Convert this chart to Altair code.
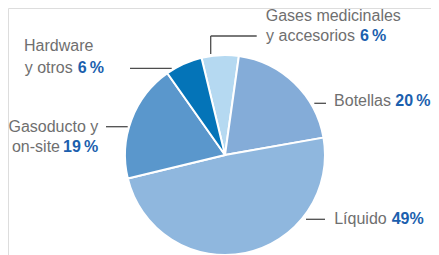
import math
import altair as alt
import pandas as pd

# ---- data ----
categories = ["Gases medicinales y accesorios", "Botellas", "Líquido",
              "Gasoducto y on-site", "Hardware y otros"]
values = [6, 20, 49, 19, 6]
colors = ["#b5d9f1", "#84acd8", "#8fb7de", "#5a97cc", "#0474b8"]

df = pd.DataFrame({"cat": categories, "value": values, "idx": list(range(len(values)))})

# ---- layout (pixel positions of annotations, view coordinates) ----
OFF = 8
CX, CY, R = 225 - OFF, 155 - OFF, 100
t0 = 2 * math.pi - math.radians(13.6)

gray_left = pd.DataFrame({
    "text": ["Gases medicinales", "Hardware"],
    "x": [265.7 - OFF, 24 - OFF],
    "y": [21 - OFF, 51 - OFF],
})
gray_right = pd.DataFrame({
    "text": ["y accesorios", "y otros", "Gasoducto y", "on-site", "Botellas", "Líquido"],
    "x": [355 - OFF, 72.7 - OFF, 98.3 - OFF, 60 - OFF, 391 - OFF, 386.7 - OFF],
    "y": [40.7 - OFF, 73 - OFF, 131.7 - OFF, 151.7 - OFF, 106 - OFF, 224 - OFF],
})
bold_left = pd.DataFrame({
    "text": ["6\u2009%", "6\u2009%", "49%"],
    "x": [360 - OFF, 77.7 - OFF, 391.7 - OFF],
    "y": [40.7 - OFF, 73 - OFF, 224 - OFF],
})
bold_right = pd.DataFrame({
    "text": ["19\u2009%", "20\u2009%"],
    "x": [98.3 - OFF, 430.5 - OFF],
    "y": [151.7 - OFF, 106 - OFF],
})
leaders = pd.DataFrame({
    "x": [210.7, 210.7, 130, 106, 314.3, 306],
    "x2": [210.7, 256.7, 171.7, 127.7, 326, 325],
    "y": [54, 36, 68.3, 126.7, 103.3, 219.3],
    "y2": [36, 36, 68.3, 126.7, 103.3, 219.3],
})
for c in ["x", "x2", "y", "y2"]:
    leaders[c] = leaders[c] - OFF

FONT = "Liberation Sans"
GRAY = "#6f6f6f"
BLUE = "#1b5fae"

pie = alt.Chart(df).mark_arc(outerRadius=R, stroke="white", strokeWidth=2).encode(
    theta=alt.Theta("value:Q", stack=True, scale=alt.Scale(range=[t0, t0 + 2 * math.pi])),
    color=alt.Color("cat:N", scale=alt.Scale(domain=categories, range=colors), legend=None),
    order=alt.Order("idx:Q", sort="ascending"),
    x=alt.value(CX),
    y=alt.value(CY),
)

rules = alt.Chart(leaders).mark_rule(color="#4d4d4d", strokeWidth=1.3).encode(
    x=alt.X("x:Q", scale=None, axis=None),
    x2="x2:Q",
    y=alt.Y("y:Q", scale=None, axis=None),
    y2="y2:Q",
)

def text_layer(d, align, bold):
    return alt.Chart(d).mark_text(
        align=align, baseline="alphabetic", font=FONT, fontSize=16,
        fontWeight="bold" if bold else "normal", color=BLUE if bold else GRAY,
    ).encode(
        x=alt.X("x:Q", scale=None, axis=None),
        y=alt.Y("y:Q", scale=None, axis=None),
        text="text:N",
    )

chart = alt.layer(
    pie, rules,
    text_layer(gray_left, "left", False),
    text_layer(gray_right, "right", False),
    text_layer(bold_left, "left", True),
    text_layer(bold_right, "right", True),
).properties(
    width=423, height=247, autosize="none", padding=0,
).configure_view(stroke=None).configure(background="transparent")

chart.save("out.html", embed_options={"renderer": "svg", "actions": False})
